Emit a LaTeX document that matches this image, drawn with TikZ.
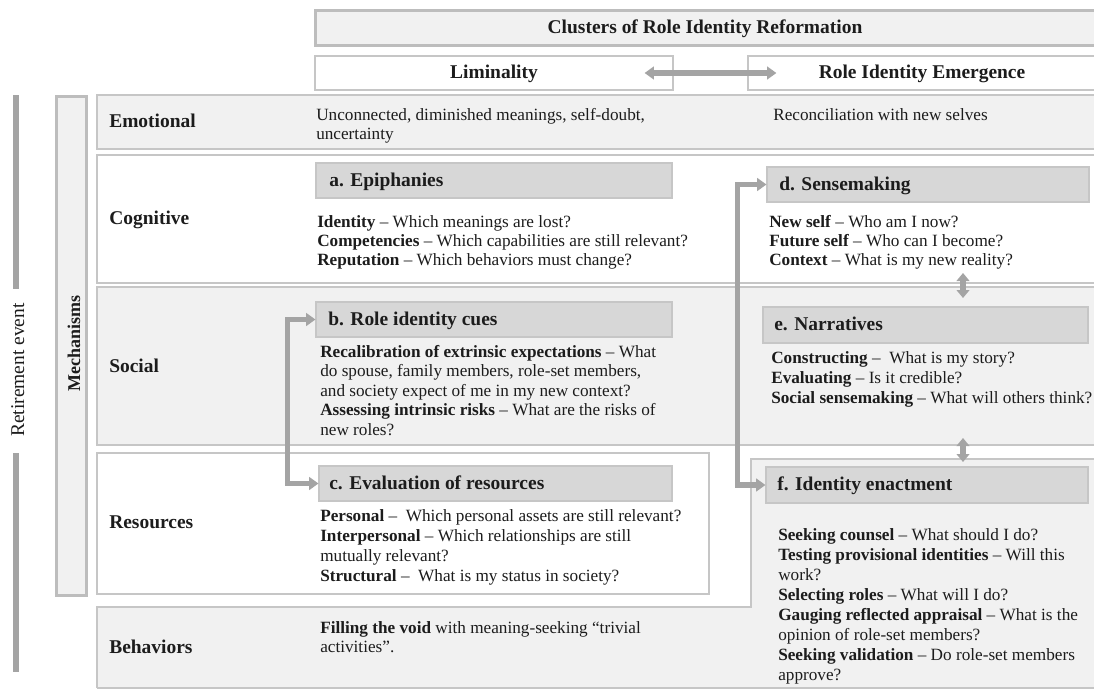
\documentclass[tikz,border=0pt]{standalone}
\usepackage{fontspec}
\setmainfont{Liberation Serif}
\usetikzlibrary{arrows.meta,calc,fit}
\definecolor{rowgray}{HTML}{F1F1F1}
\definecolor{hdrgray}{HTML}{D7D7D7}
\definecolor{bordergray}{HTML}{C6C6C6}
\definecolor{thickgray}{HTML}{BDBDBD}
\definecolor{arrgray}{HTML}{A4A4A4}
\definecolor{txt}{HTML}{1C1C1C}
\begin{document}
\begin{tikzpicture}[x=0.75pt,y=-0.75pt,
  fitbox/.style={rectangle, inner sep=0pt},
  rowbox/.style={fitbox, draw=bordergray, line width=1.1pt},
  hdrbox/.style={fitbox, fill=hdrgray, draw=bordergray, line width=0.8pt},
  body/.style={anchor=base west, inner sep=0pt, text=txt, font=\fontsize{12.9}{15}\selectfont},
  blabel/.style={anchor=base west, inner sep=0pt, text=txt, font=\fontsize{14.6}{17}\selectfont\bfseries},
  ctitle/.style={anchor=base, inner sep=0pt, text=txt, font=\fontsize{14.6}{17}\selectfont\bfseries},
  conn/.style={draw=arrgray, line width=3.9pt, line join=miter},
  twotips/.style={{Triangle[length=7pt,width=9.5pt]}-{Triangle[length=7pt,width=9.5pt]}},
  smalltips/.style={{Triangle[length=6pt,width=9.5pt]}-{Triangle[length=6pt,width=9.5pt]}},
]
\useasboundingbox (0,0) rectangle (1094,689);
\clip (0,0) rectangle (1094,689);
\fill[white] (0,0) rectangle (1094,689);

% ---- top headers ----
\node[fitbox, fill=rowgray, draw=thickgray, line width=2.25pt, fit={(315,10) (1110,45)}] (title) {};
\node[ctitle] (titletxt) at (705,33) {Clusters of Role Identity Reformation};
\node[fitbox, fill=white, draw=bordergray, line width=0.9pt, fit={(315,56) (673,90)}] (lim) {};
\node[ctitle] (limtxt) at (494,78.5) {Liminality};
\node[fitbox, fill=white, draw=bordergray, line width=0.9pt, fit={(748,56) (1110,90)}] (rie) {};
\node[ctitle] (rietxt) at (922,78.5) {Role Identity Emergence};

% ---- left bars ----
\draw[arrgray, line width=3.9pt] (16,95) -- (16,289);
\draw[arrgray, line width=3.9pt] (16,453) -- (16,672);
\node[rotate=90, anchor=base, inner sep=0pt, text=txt, font=\fontsize{14.6}{17}\selectfont] (ret) at (24,370) {Retirement event};
\node[fitbox, fill=rowgray, draw=thickgray, line width=2.25pt, fit={(56.5,96) (86.5,595)}] (mech) {};
\node[rotate=90, anchor=base, inner sep=0pt, text=txt, font=\fontsize{13.5}{16}\selectfont\bfseries] (mechtxt) at (80,343) {Mechanisms};

% ---- rows ----
\node[rowbox, fill=rowgray, fit={(97,95) (1110,149)}] (emo) {};
\node[rowbox, fill=white, fit={(97,155) (1110,283)}] (cog) {};
\node[rowbox, fill=rowgray, fit={(97,287) (1110,445)}] (soc) {};
\node[rowbox, fill=white, fit={(97,453) (709,594)}] (res) {};
\node[fitbox, fill=rowgray, fit={(97,607) (1110,688)}] (beh) {};
\node[fitbox, fill=rowgray, fit={(751,459) (1110,688)}] (fbox) {};
\draw[bordergray, line width=1.1pt] (97,688) -- (97,607) -- (751,607) -- (751,459) -- (1110,459);
\draw[bordergray, line width=1.1pt] (97,688) -- (1110,688);

% ---- row labels ----
\node[blabel] (lemo) at (109,127.5) {Emotional};
\node[blabel] (lcog) at (109,224) {Cognitive};
\node[blabel] (lsoc) at (109,372.5) {Social};
\node[blabel] (lres) at (109,528.5) {Resources};
\node[blabel] (lbeh) at (109,653.5) {Behaviors};

% ---- emotional / behaviors text ----
\node[body] (emo1) at (316,120) {Unconnected, diminished meanings, self-doubt,};
\node[body] (emo2) at (316,139) {uncertainty};
\node[body] (emo3) at (773,120) {Reconciliation with new selves};
\node[body] (beh1) at (320,633) {\textbf{Filling the void} with meaning-seeking “trivial};
\node[body] (beh2) at (320,652) {activities”.};

% ---- section headers ----
\node[hdrbox, fit={(316,163) (672,198)}] (ah) {};
\node[blabel] (at) at (329,186.5) {a. Epiphanies};
\node[hdrbox, fit={(316,302) (672,337)}] (bh) {};
\node[blabel] (bt) at (328,325) {b. Role identity cues};
\node[hdrbox, fit={(319,466) (672,501)}] (ch) {};
\node[blabel] (ct) at (329,489) {c. Evaluation of resources};
\node[hdrbox, fit={(767,167) (1089,202)}] (dh) {};
\node[blabel] (dt) at (779,190) {d. Sensemaking};
\node[hdrbox, fit={(763,307) (1088,343)}] (eh) {};
\node[blabel] (et) at (774,330.5) {e. Narratives};
\node[hdrbox, fit={(766,467) (1088,503)}] (fh) {};
\node[blabel] (ft) at (777,490.5) {f. Identity enactment};

% ---- a ----
\node[body] (a1) at (317,227) {\textbf{Identity} – Which meanings are lost?};
\node[body] (a2) at (317,246) {\textbf{Competencies} – Which capabilities are still relevant?};
\node[body] (a3) at (317,265) {\textbf{Reputation} – Which behaviors must change?};
% ---- b ----
\node[body] (b1) at (320,357) {\textbf{Recalibration of extrinsic expectations} – What};
\node[body] (b2) at (320,376.5) {do spouse, family members, role-set members,};
\node[body] (b3) at (320,396) {and society expect of me in my new context?};
\node[body] (b4) at (320,415.5) {\textbf{Assessing intrinsic risks} – What are the risks of};
\node[body] (b5) at (320,435) {new roles?};
% ---- c ----
\node[body] (c1) at (320,521) {\textbf{Personal} –\ \ Which personal assets are still relevant?};
\node[body] (c2) at (320,541) {\textbf{Interpersonal} – Which relationships are still};
\node[body] (c3) at (320,561) {mutually relevant?};
\node[body] (c4) at (320,581) {\textbf{Structural} –\ \ What is my status in society?};
% ---- d ----
\node[body] (d1) at (769,227) {\textbf{New self} – Who am I now?};
\node[body] (d2) at (769,246) {\textbf{Future self} – Who can I become?};
\node[body] (d3) at (769,265) {\textbf{Context} – What is my new reality?};
% ---- e ----
\node[body] (e1) at (771,363) {\textbf{Constructing} –\ \ What is my story?};
\node[body] (e2) at (771,383) {\textbf{Evaluating} – Is it credible?};
\node[body] (e3) at (771,403) {\textbf{Social sensemaking} – What will others think?};
% ---- f ----
\node[body] (f1) at (778,540) {\textbf{Seeking counsel} – What should I do?};
\node[body] (f2) at (778,560) {\textbf{Testing provisional identities} – Will this};
\node[body] (f3) at (778,580) {work?};
\node[body] (f4) at (778,600) {\textbf{Selecting roles} – What will I do?};
\node[body] (f5) at (778,620) {\textbf{Gauging reflected appraisal} – What is the};
\node[body] (f6) at (778,640) {opinion of role-set members?};
\node[body] (f7) at (778,660) {\textbf{Seeking validation} – Do role-set members};
\node[body] (f8) at (778,680) {approve?};

% ---- connectors ----
\draw[conn, twotips] ($(lim.east)+(-29,0)$) -- ($(rie.west)+(29,0)$);
\draw[conn, twotips] (bh.west) -- ++(-28,0) |- (ch.west);
\draw[conn, twotips] (dh.west) -- ++(-29,0) |- (fh.west);
\coordinate (de1) at (963,273);
\coordinate (de2) at (963,298);
\coordinate (ef1) at (963,438);
\coordinate (ef2) at (963,462);
\draw[conn, smalltips] (de1) -- (de2);
\draw[conn, smalltips] (ef1) -- (ef2);
\end{tikzpicture}
\end{document}
